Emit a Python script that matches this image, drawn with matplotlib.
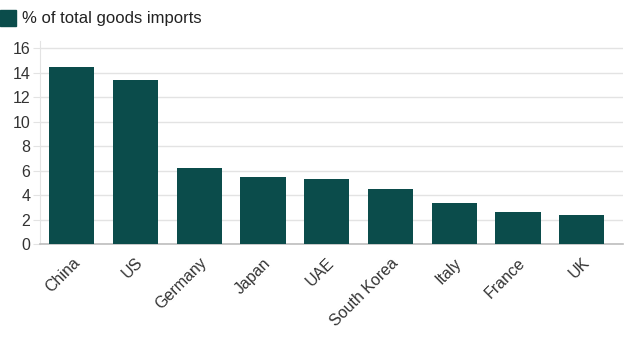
import matplotlib
matplotlib.use('Agg')
import matplotlib.pyplot as plt
from matplotlib.patches import Rectangle

# datos
countries = ["China", "US", "Germany", "Japan", "UAE", "South Korea", "Italy", "France", "UK"]
share = [14.5, 13.4, 6.2, 5.5, 5.3, 4.5, 3.35, 2.6, 2.35]
yticks = [0, 2, 4, 6, 8, 10, 12, 14, 16]
legend_label = "% of total goods imports"

bar_color = "#0b4c4b"
text_color = "#333333"
grid_color = "#e3e3e3"

plt.rcParams['font.family'] = ['Liberation Sans', 'DejaVu Sans']

fig = plt.figure(figsize=(6.4, 3.6), dpi=100)
ax = fig.add_axes([0.0625, 0.322, 0.911, 0.564])

x = range(len(countries))
ax.bar(x, share, width=0.71, color=bar_color, zorder=3)

ax.set_xlim(-0.5, len(countries) - 0.35)
ax.set_ylim(0, 16.6)
ax.set_yticks(yticks)
ax.set_yticklabels([str(t) for t in yticks], fontsize=11.5, color=text_color)
ax.set_xticks(list(x))
ax.set_xticklabels(countries, rotation=45, ha='right', rotation_mode='anchor',
                   fontsize=11.5, color=text_color)

ax.grid(axis='y', color=grid_color, linewidth=1, zorder=0)
for side in ['top', 'right']:
    ax.spines[side].set_visible(False)
ax.spines['left'].set_color(grid_color)
ax.spines['bottom'].set_color("#bdbdbd")
ax.spines['bottom'].set_linewidth(1.2)
ax.tick_params(axis='y', length=5, color=grid_color, pad=2)
ax.tick_params(axis='x', length=0, pad=8)

# leyenda
fig.patches.append(Rectangle((0.0, 0.928), 0.025, 0.044, transform=fig.transFigure,
                             color=bar_color, figure=fig))
fig.text(0.034, 0.95, legend_label, fontsize=12, color="#222222", va='center')

fig.savefig("out.png", dpi=100)
plt.close(fig)
